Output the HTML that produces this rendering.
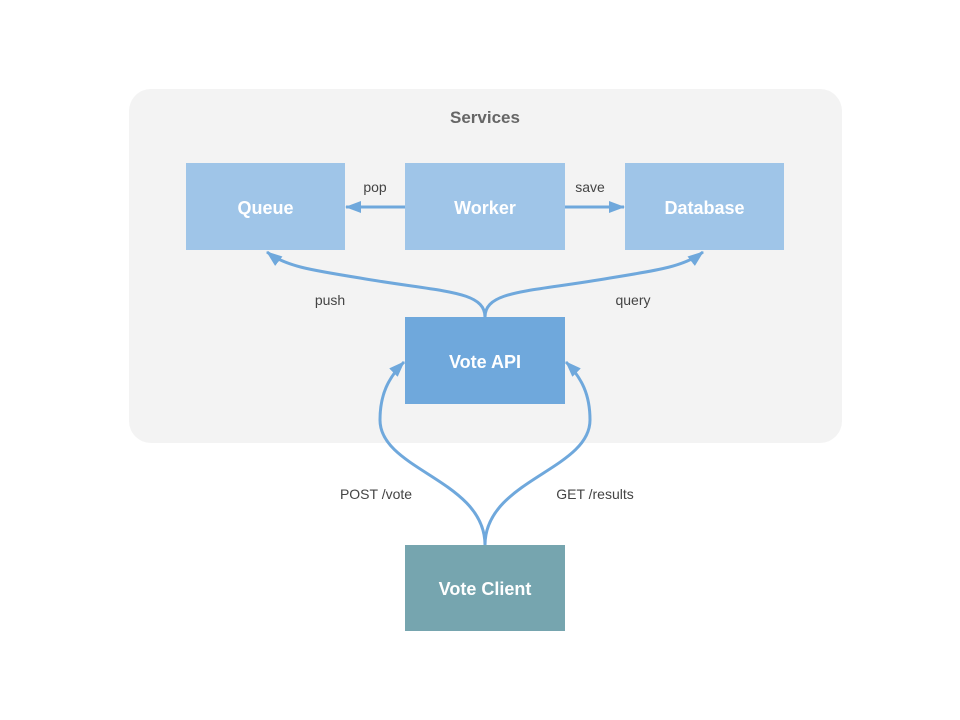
<!DOCTYPE html>
<html><head><meta charset="utf-8"><style>
html,body{margin:0;padding:0;background:#fff}
svg{display:block}
text{font-family:"Liberation Sans",sans-serif}
</style></head><body>
<svg width="960" height="720" viewBox="0 0 960 720">
<defs>
<marker id="b" markerWidth="16" markerHeight="12" refX="15" refY="6" orient="auto" markerUnits="userSpaceOnUse">
<path d="M0,0 L16,6 L0,12 z" fill="#6fa8dc"/>
</marker>
</defs>
<rect x="129" y="89" width="713" height="354" rx="22" fill="#f3f3f3"/>
<text x="485" y="123" font-size="17" font-weight="bold" fill="#666" text-anchor="middle">Services</text>
<rect x="186" y="163" width="159" height="87" fill="#9fc5e8"/>
<rect x="405" y="163" width="160" height="87" fill="#9fc5e8"/>
<rect x="625" y="163" width="159" height="87" fill="#9fc5e8"/>
<rect x="405" y="317" width="160" height="87" fill="#6fa8dc"/>
<rect x="405" y="545" width="160" height="86" fill="#76a5af"/>
<g fill="#fff" font-size="18" font-weight="bold" text-anchor="middle">
<text x="265.5" y="214">Queue</text>
<text x="485" y="214">Worker</text>
<text x="704.5" y="214">Database</text>
<text x="485" y="368">Vote API</text>
<text x="485" y="595">Vote Client</text>
</g>
<g fill="none" stroke="#6fa8dc" stroke-width="3">
<path d="M405,207 L346,207" marker-end="url(#b)"/>
<path d="M565,207 L624,207" marker-end="url(#b)"/>
<path d="M485,317 C485,290 440,292 360,278 C310,270 285,266 267,252" marker-end="url(#b)"/>
<path d="M485,317 C485,290 530,292 610,278 C660,270 685,266 703,252" marker-end="url(#b)"/>
<path d="M485,545 C485,480 380,470 380,420 C380,395 388,378 404,362" marker-end="url(#b)"/>
<path d="M485,545 C485,480 590,470 590,420 C590,395 582,378 566,362" marker-end="url(#b)"/>
</g>
<g fill="#444" font-size="14" text-anchor="middle">
<text x="375" y="192">pop</text>
<text x="590" y="192">save</text>
<text x="330" y="305">push</text>
<text x="633" y="305">query</text>
<text x="376" y="499">POST /vote</text>
<text x="595" y="499">GET /results</text>
</g>
</svg>
</body></html>
